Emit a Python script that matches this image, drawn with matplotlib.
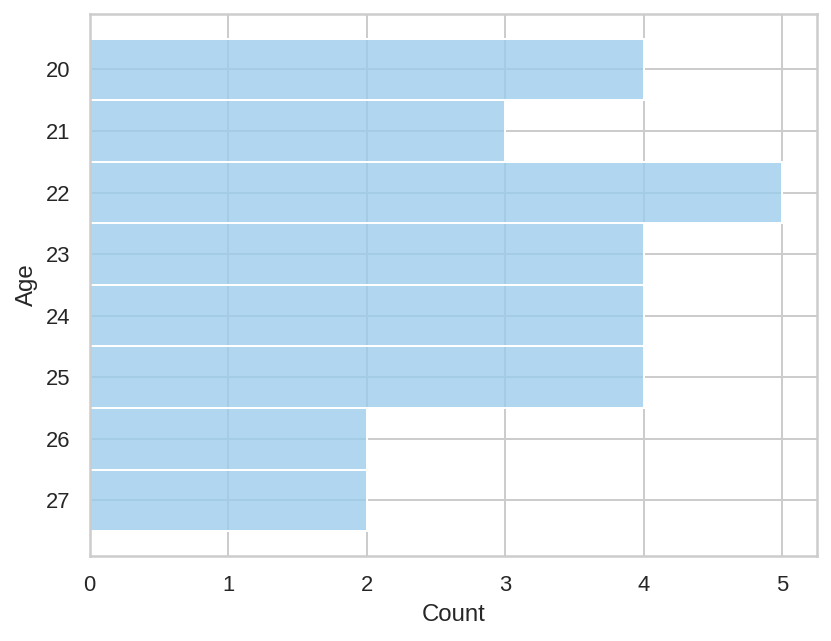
import matplotlib
matplotlib.use("Agg")
import matplotlib.pyplot as plt
import seaborn as sns
import pandas as pd

ages = ["20", "21", "22", "23", "24", "25", "26", "27"]
counts = [4, 3, 5, 4, 4, 4, 2, 2]

# expand counts into raw observations for histplot
values = []
for a, c in zip(ages, counts):
    values += [a] * c
df = pd.DataFrame({"Age": values})

sns.set_theme(style="whitegrid")
plt.rcParams["font.family"] = ["Liberation Sans", "DejaVu Sans"]
fig = plt.figure(figsize=(831 / 144, 641 / 144), dpi=144)
ax = fig.add_axes([0.108, 0.133, 0.875, 0.845])
sns.histplot(data=df, y="Age", color="#9ccdec", alpha=0.8, ax=ax)
ax.set_xlabel("Count")
ax.set_ylabel("Age")

fig.savefig("out.png", dpi=144)
